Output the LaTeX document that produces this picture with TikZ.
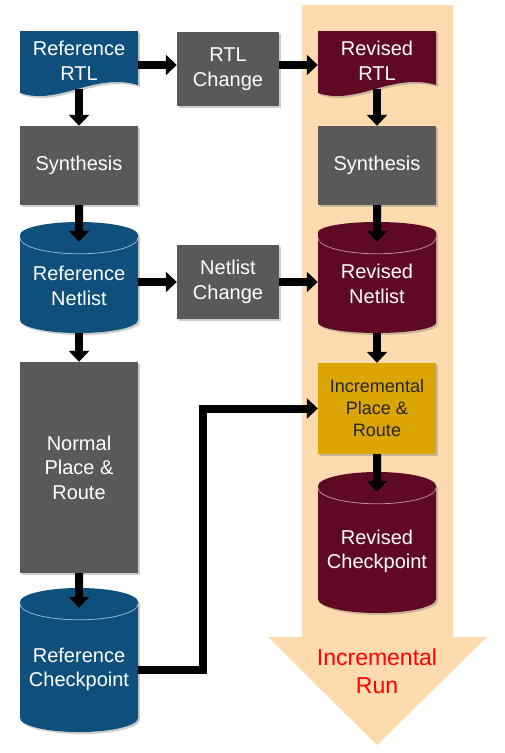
\documentclass[tikz,border=0pt]{standalone}
\usepackage{fontspec}
\setmainfont{Liberation Sans}
\usetikzlibrary{arrows.meta,shapes.geometric,shadows}
\definecolor{refblue}{RGB}{14,79,124}
\definecolor{revred}{RGB}{96,9,36}
\definecolor{stepgray}{RGB}{89,89,89}
\definecolor{incgold}{RGB}{218,165,5}
\definecolor{runpeach}{RGB}{253,219,175}
\definecolor{rimblue}{RGB}{140,185,215}
\definecolor{rimred}{RGB}{195,135,155}
\begin{document}
\begin{tikzpicture}[x=1pt,y=-1pt,
        every node/.style={font=\fontsize{20}{24.5}\selectfont, text=white, align=center, inner sep=2pt},
        boxshadow/.style={drop shadow={opacity=0.4, shadow xshift=2pt, shadow yshift=-2pt}},
        stepbox/.style={rectangle, fill=stepgray, minimum width=102pt, minimum height=74pt, boxshadow},
        docbox/.style={rectangle, minimum width=118pt, minimum height=56pt},
        docpage/.style={fill=#1, boxshadow},
        db/.style={cylinder, shape border rotate=90, aspect=0.27, fill=#1, anchor=shape center,
            minimum width=118pt, minimum height=111pt, boxshadow,
            execute at begin node={\rule{0pt}{36pt}}},
        rimline/.style={#1, line width=0.8pt},
        flow/.style={line width=8pt, -{Triangle[length=11pt,width=20pt]}}]
    \useasboundingbox (0,0) rectangle (504,753);
    % incremental run arrow
    \fill[runpeach] (302,5) -- (453,5) -- (453,637) -- (487,637) -- (377,745)
        -- (268,637) -- (302,637) -- cycle;
    \node[text=red, font=\fontsize{23}{28}\selectfont] (runlbl) at (377,671) {Incremental\\Run};
    % reference flow
    \begin{scope}[shift={(79,64)}]
        \fill[docpage=refblue] (-59,-33) -- (59,-33) -- (59,21)
            .. controls (15,8) and (-20,42) .. (-59,29) -- cycle;
        \node[docbox] (refrtl) at (0,-3) {Reference\\RTL};
    \end{scope}
    \node[stepbox, minimum width=118pt, minimum height=79pt] (synl) at (79,165.5) {Synthesis};
    \node[db=refblue] (refnet) at (79,277.5) {Reference\\Netlist};
    \node[stepbox, minimum width=118pt, minimum height=211pt] (normpr) at (79,467.5) {Normal\\Place \&\\Route};
    \node[db=refblue, minimum height=144pt, execute at begin node={\rule{0pt}{40pt}}] (refchk) at (79,660) {Reference\\Checkpoint};
    % changes
    \node[stepbox] (rtlchg) at (228,69) {RTL\\Change};
    \node[stepbox] (netchg) at (228,282) {Netlist\\Change};
    % revised flow
    \begin{scope}[shift={(377,64)}]
        \fill[docpage=revred] (-59,-33) -- (59,-33) -- (59,21)
            .. controls (15,8) and (-20,42) .. (-59,29) -- cycle;
        \node[docbox] (revrtl) at (0,-3) {Revised\\RTL};
    \end{scope}
    \node[stepbox, minimum width=118pt, minimum height=79pt] (synr) at (377,165.5) {Synthesis};
    \node[db=revred] (revnet) at (377,277.5) {Revised\\Netlist};
    \node[stepbox, fill=incgold, text=black!85, minimum width=118pt, minimum height=91pt,
        font=\fontsize{18}{22}\selectfont] (incpr) at (377,408.5) {Incremental\\Place \&\\Route};
    \node[db=revred, minimum height=141pt, execute at begin node={\rule{0pt}{38pt}}] (revchk) at (377,542.5) {Revised\\Checkpoint};
    % rims of the cylinder tops
    \foreach \n/\c in {refnet/rimblue, refchk/rimblue, revnet/rimred, revchk/rimred}
        \draw[rimline=\c] ([xshift=-59pt,yshift=-16pt]\n.north)
            arc[start angle=180, end angle=360, x radius=59pt, y radius=16pt];
    % connectors
    \draw[flow] (refrtl.south) -- (synl.north);
    \draw[flow] (synl.south) -- ([yshift=-20pt]refnet.north);
    \draw[flow] (refnet.south) -- (normpr.north);
    \draw[flow] (normpr.south) -- ([yshift=-20pt]refchk.north);
    \draw[flow] (revrtl.south) -- (synr.north);
    \draw[flow] (synr.south) -- ([yshift=-20pt]revnet.north);
    \draw[flow] (revnet.south) -- (incpr.north);
    \draw[flow] (incpr.south) -- ([yshift=-20pt]revchk.north);
    \draw[flow] ([yshift=-4pt]refrtl.east) -- ([yshift=4pt]rtlchg.west);
    \draw[flow] ([yshift=4pt]rtlchg.east) -- ([yshift=-4pt]revrtl.west);
    \draw[flow] (refnet.east |- netchg.west) -- (netchg.west);
    \draw[flow] (netchg.east) -- (revnet.west |- netchg.east);
    \draw[flow] ([yshift=-1pt]refchk.east) -| ([xshift=-115pt]incpr.west) -- (incpr.west);
\end{tikzpicture}
\end{document}
